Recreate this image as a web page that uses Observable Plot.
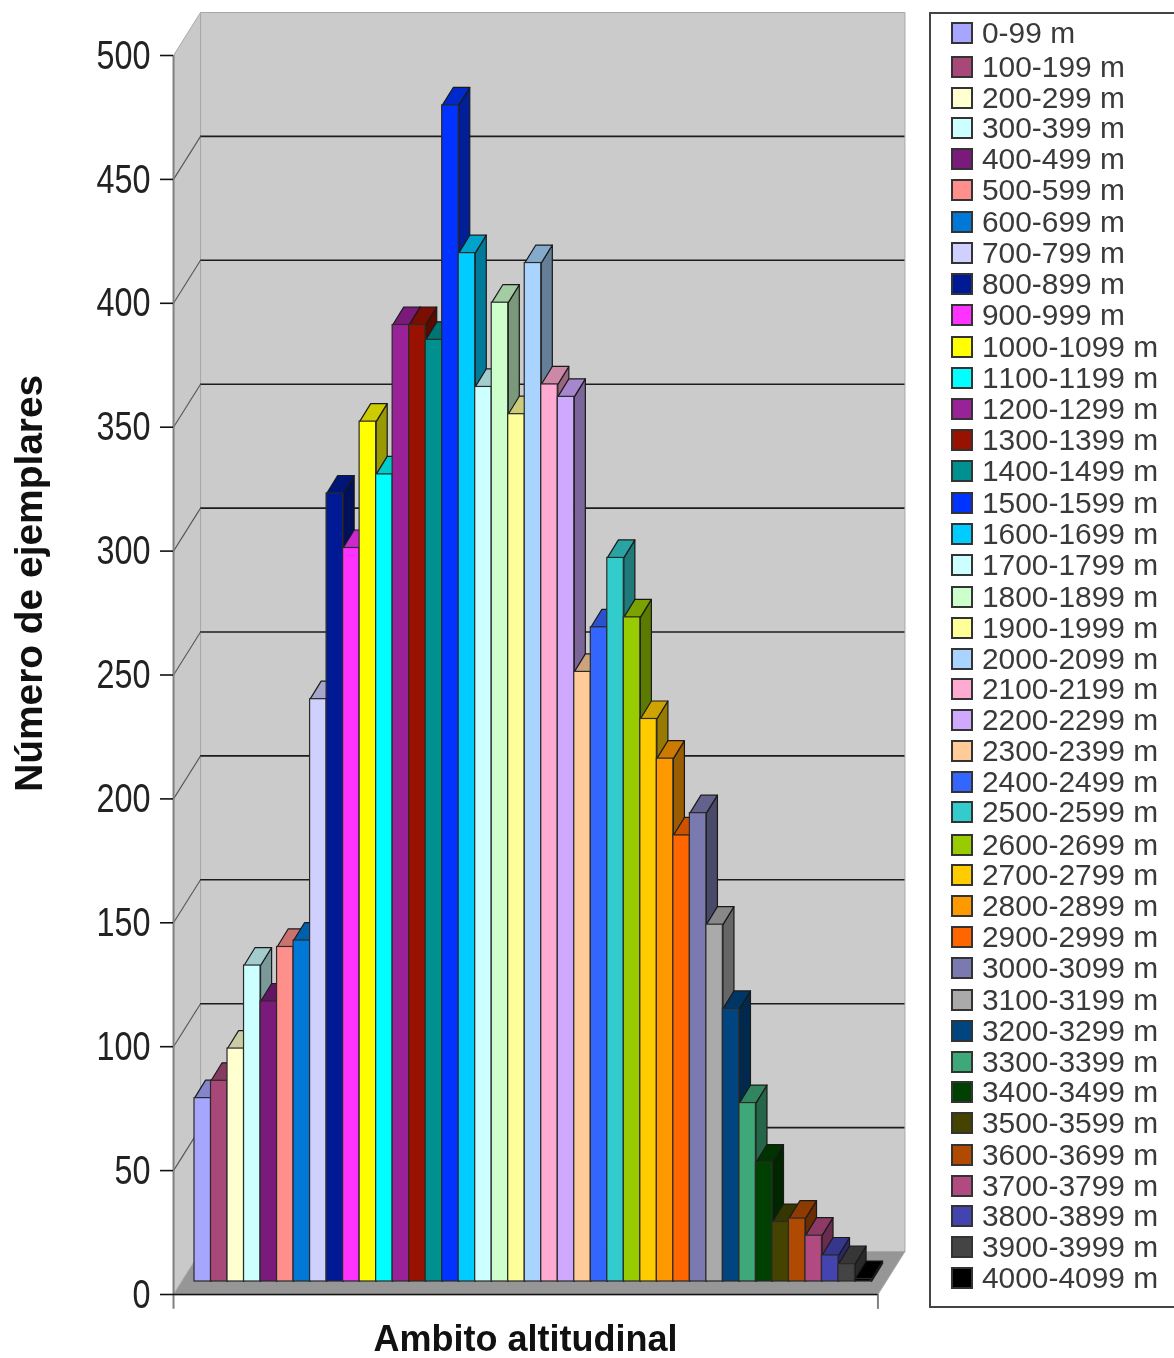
<!DOCTYPE html>
<html lang="es">
<head>
<meta charset="utf-8">
<title>Número de ejemplares por ámbito altitudinal</title>
<script src="https://cdn.jsdelivr.net/npm/d3@7"></script>
<script src="https://cdn.jsdelivr.net/npm/@observablehq/plot@0.6"></script>
<style>
  html, body { margin: 0; padding: 0; background: #fff; }
  #page { position: relative; width: 1174px; height: 1358px; overflow: hidden; filter: blur(0.55px); font-family: "Liberation Sans", Arial, sans-serif; }
  #chart svg { display: block; }
  #legend { position: absolute; left: 929px; top: 12px; width: 260px; height: 1292px; border: 2px solid #444; box-sizing: content-box; background: #fff; }
  .row { position: absolute; left: 20px; display: flex; align-items: center; height: 30px; }
  .sw { width: 18px; height: 18px; border: 2px solid #333; margin-right: 9px; flex: none; }
  .lb { font-size: 29.9px; color: #3a3a3a; white-space: pre; line-height: 30px; font-kerning: none; }
</style>
</head>
<body>
<div id="page">
  <div id="chart"></div>
  <div id="legend"></div>
</div>
<script>
const bands = ["0-99 m","100-199 m","200-299 m","300-399 m","400-499 m","500-599 m","600-699 m","700-799 m","800-899 m","900-999 m","1000-1099 m","1100-1199 m","1200-1299 m","1300-1399 m","1400-1499 m","1500-1599 m","1600-1699 m","1700-1799 m","1800-1899 m","1900-1999 m","2000-2099 m","2100-2199 m","2200-2299 m","2300-2399 m","2400-2499 m","2500-2599 m","2600-2699 m","2700-2799 m","2800-2899 m","2900-2999 m","3000-3099 m","3100-3199 m","3200-3299 m","3300-3399 m","3400-3499 m","3500-3599 m","3600-3699 m","3700-3799 m","3800-3899 m","3900-3999 m","4000-4099 m"];
const counts = [74,81,94,127.5,113,135,137.6,235,318,296,347,325.7,386,386,380,474.6,415,361,395,350,411,362,357,246,264,292,268,227,211,180,189,144,110,72,48,24,25.4,18.5,10.5,7,1];
const colors = ["#a6a6ff","#a84878","#ffffd0","#ccffff","#7a1a7a","#ff8f8a","#0078d8","#d0d0ff","#001a96","#ff33ff","#ffff00","#00ffff","#992299","#991100","#009090","#0033ff","#00ccff","#ccffff","#ccffcc","#ffff99","#a8d4ff","#ffaad0","#cfa8ff","#ffcc99","#3366ff","#33cccc","#99cc00","#ffcc00","#ff9900","#ff6600","#7a7ab0","#aaaaaa","#004480","#3da878","#004000","#444400","#b04a00","#b04a80","#4444b0","#444444","#000000"];
const yTicks = [0,50,100,150,200,250,300,350,400,450,500];
const gridTicks = [50,100,150,200,250,300,350,400,450];
const yTitle = "Número de ejemplares";
const xTitle = "Ambito altitudinal";

const barBase = 5.25;            // the bars stand this far up the floor, in y units
const barDepth = {x: 0.67, y: 7.26};
const wallDepth = {x: 1.636, y: 17.35};
const frontX = [-1.27, 41.39];
const legendCenters = [33,67,98,128,159,190,222,253,284,315,347,378,409,440,471,503,534,565,597,628,659,689,720,751,782,812,845,875,906,937,968,1000,1031,1062,1092,1123,1155,1186,1216,1247,1278];

const bars = bands.map((band, i) => ({band, i, v: counts[i], color: colors[i]}));
const shade = (c, k) => { const r = d3.rgb(c); return d3.rgb(r.r * k, r.g * k, r.b * k).formatHex(); };

const faces = bars.flatMap(d => {
  const t = d.v + barBase, b = barBase, l = d.i, r = d.i + 1, dx = barDepth.x, dy = barDepth.y;
  return [
    [[r, b], [r + dx, b + dy], [r + dx, t + dy], [r, t]].map(([x, y]) => ({x, y, face: d.i + "s", fill: shade(d.color, 0.6)})),
    [[l, t], [r, t], [r + dx, t + dy], [l + dx, t + dy]].map(([x, y]) => ({x, y, face: d.i + "t", fill: shade(d.color, 0.8)}))
  ].flat();
});

const [fl, fr] = frontX, wx = wallDepth.x, wy = wallDepth.y;
const shell = [
  [[fl, 0], [fl, 500], [fl + wx, 500 + wy], [fl + wx, wy]].map(([x, y]) => ({x, y, face: "left", fill: "#c9c9c9"})),
  [[fl + wx, wy], [fl + wx, 500 + wy], [fr + wx, 500 + wy], [fr + wx, wy]].map(([x, y]) => ({x, y, face: "back", fill: "#cbcbcb"})),
  [[fl, 0], [fl + wx, wy], [fr + wx, wy], [fr, 0]].map(([x, y]) => ({x, y, face: "floor", fill: "#969696"}))
].flat();

const chart = Plot.plot({
  width: 1174, height: 1358,
  marginLeft: 173, marginRight: 297, marginTop: 11, marginBottom: 64,
  style: {fontFamily: "'Liberation Sans', Arial, sans-serif", background: "#fff", overflow: "visible"},
  x: {domain: [0, 41], range: [194, 871], axis: null},
  y: {domain: [0, 500], range: [1294, 55], axis: null},
  marks: [
    Plot.line(shell, {x: "x", y: "y", z: "face", fill: "fill", stroke: "#a8a8a8", strokeWidth: 1, curve: "linear-closed"}),
    Plot.ruleY(gridTicks, {x1: fl + wx, x2: fr + wx, y: d => d + wy, stroke: "#1c1c1c", strokeWidth: 1.6}),
    Plot.link(gridTicks, {x1: fl, x2: fl + wx, y1: d => d, y2: d => d + wy, stroke: "#555", strokeWidth: 1.1}),
    Plot.ruleX([fl], {y1: -6, y2: 500, stroke: "#808080", strokeWidth: 2}),
    Plot.ruleX([fr], {y1: -6, y2: 0, stroke: "#808080", strokeWidth: 2}),
    Plot.ruleY([0], {x1: fl, x2: fr, stroke: "#111", strokeWidth: 1.6}),
    Plot.line(faces, {x: "x", y: "y", z: "face", fill: "fill", stroke: "#1a1a1a", strokeWidth: 1.2, curve: "linear-closed"}),
    Plot.rect(bars, {x1: "i", x2: d => d.i + 1, y1: barBase, y2: d => d.v + barBase, fill: "color", stroke: "#2a2a2a", strokeWidth: 1.2, inset: 0, title: d => `${d.band}: ${d.v}`}),
    Plot.axisY(yTicks, {anchor: "left", label: null, tickSize: 13, tickPadding: 10, fontSize: 41, stroke: "#111", strokeWidth: 1.6, fill: "#222", className: "ytick"}),
    Plot.text([yTitle], {x: -10, y: 287, text: d => d, rotate: -90, fontSize: 38, fontWeight: "bold", fill: "#111", className: "ytitle"}),
    Plot.text([xTitle], {x: 20.05, y: -18, text: d => d, fontSize: 36, fontWeight: "bold", fill: "#111"})
  ]
});
document.getElementById("chart").append(chart);

d3.select(chart).selectAll("g[aria-label='y-axis tick label'] text, .ytick text").each(function () {
  const s = this.textContent.trim();
  this.setAttribute("textLength", 18 * s.length);
  this.setAttribute("lengthAdjust", "spacingAndGlyphs");
});
d3.select(chart).selectAll(".ytitle text").each(function () {
  this.setAttribute("textLength", 417);
  this.setAttribute("lengthAdjust", "spacingAndGlyphs");
});

const legend = d3.select("#legend");
const rows = legend.selectAll(".row").data(bars).join("div")
  .attr("class", "row")
  .style("top", d => `${legendCenters[d.i] - 15 - 14}px`);
rows.append("div").attr("class", "sw").style("background", d => d.color);
rows.append("div").attr("class", "lb").text(d => d.band);
</script>
</body>
</html>
